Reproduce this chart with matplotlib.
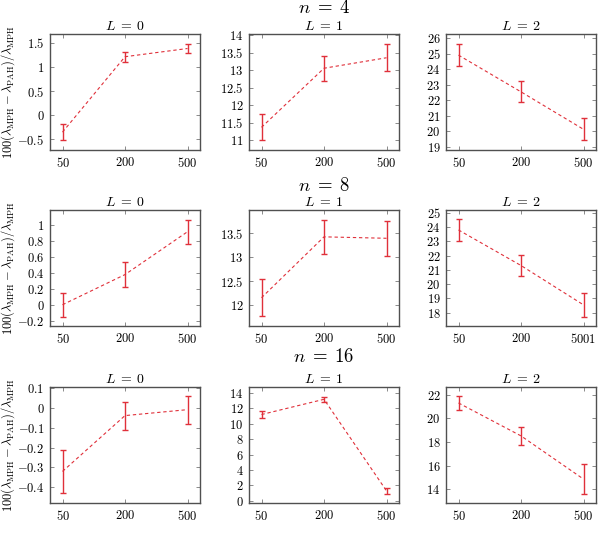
import matplotlib
matplotlib.use("Agg")
import matplotlib.pyplot as plt
import numpy as np

plt.rcParams['mathtext.fontset'] = 'cm'
plt.rcParams['font.family'] = ['DejaVu Serif']

x_labels = ["50", "200", "500"]
x_labels_alt = ["50", "200", "5001"]
L_titles = [r"$L\;=\;0$", r"$L\;=\;1$", r"$L\;=\;2$"]
n_titles = [r"$n\;=\;4$", r"$n\;=\;8$", r"$n\;=\;16$"]

# n = 4
n4_L0 = [-0.35, 1.21, 1.38]
n4_L0_err = [0.17, 0.10, 0.10]
n4_L1 = [11.37, 13.06, 13.36]
n4_L1_err = [0.37, 0.36, 0.38]
n4_L2 = [24.90, 22.54, 20.13]
n4_L2_err = [0.70, 0.67, 0.70]
# n = 8
n8_L0 = [0.00, 0.38, 0.92]
n8_L0_err = [0.15, 0.16, 0.15]
n8_L1 = [12.16, 13.43, 13.40]
n8_L1_err = [0.39, 0.36, 0.36]
n8_L2 = [23.79, 21.30, 18.54]
n8_L2_err = [0.74, 0.76, 0.82]
# n = 16
n16_L0 = [-0.32, -0.039, -0.009]
n16_L0_err = [0.11, 0.07, 0.07]
n16_L1 = [11.20, 13.18, 1.28]
n16_L1_err = [0.43, 0.30, 0.41]
n16_L2 = [21.30, 18.52, 14.87]
n16_L2_err = [0.56, 0.75, 1.24]

series = [
    [(n4_L0, n4_L0_err), (n4_L1, n4_L1_err), (n4_L2, n4_L2_err)],
    [(n8_L0, n8_L0_err), (n8_L1, n8_L1_err), (n8_L2, n8_L2_err)],
    [(n16_L0, n16_L0_err), (n16_L1, n16_L1_err), (n16_L2, n16_L2_err)],
]

yticks = [
    [[-0.5, 0, 0.5, 1, 1.5], [11, 11.5, 12, 12.5, 13, 13.5, 14], list(range(19, 27))],
    [[-0.2, 0, 0.2, 0.4, 0.6, 0.8, 1], [12, 12.5, 13, 13.5], list(range(18, 26))],
    [[-0.4, -0.3, -0.2, -0.1, 0, 0.1], list(range(0, 15, 2)), [14, 16, 18, 20, 22]],
]
ylims = [
    [(-0.72, 1.68), (10.72, 14.04), (18.8, 26.26)],
    [(-0.268, 1.194), (11.57, 13.99), (17.06, 25.19)],
    [(-0.479, 0.105), (-0.3, 14.78), (12.85, 22.65)],
]

W, H = 599, 533
fig = plt.figure(figsize=(W / 100, H / 100), dpi=100)

col_left = [50, 249, 446]
col_w = 150
row_top = [34, 210, 387]
row_h = 116
title_y = [8, 186, 357]

red = '#e0303a'
frame = '#505050'

def fmt(v):
    s = ('%g' % v)
    return '$' + s + '$'

for r in range(3):
    for c in range(3):
        ax = fig.add_axes([col_left[c] / W, 1 - (row_top[r] + row_h) / H, col_w / W, row_h / H])
        y, e = series[r][c]
        xs = np.arange(len(y))
        ax.errorbar(xs, y, yerr=e, color=red, ls=(0, (3, 2.5)), lw=0.8,
                    elinewidth=1.0, capsize=2.5, capthick=1.0)
        ax.set_xlim(-0.2, 2.2)
        ax.set_ylim(*ylims[r][c])
        ax.set_xticks(xs)
        labs = x_labels_alt if (r == 1 and c == 2) else x_labels
        ax.set_xticklabels(['$' + s + '$' for s in labs])
        ax.set_yticks(yticks[r][c])
        ax.set_yticklabels([fmt(v) for v in yticks[r][c]])
        ax.tick_params(direction='in', length=3, width=0.6, color='#777777',
                       top=True, right=True, labelsize=9, pad=4)
        for sp in ax.spines.values():
            sp.set_color(frame)
            sp.set_linewidth(1.0)
        ax.set_title(L_titles[c], fontsize=10, pad=3)
        if c == 0:
            ax.set_ylabel(r'$100(\lambda_{\rm MPH}-\lambda_{\rm PAH})/\lambda_{\rm MPH}$', fontsize=9)
            ax.yaxis.set_label_coords(-33 / col_w, 0.5)
    fig.text((col_left[1] + col_w / 2) / W, 1 - title_y[r] / H, n_titles[r],
             ha='center', va='center', fontsize=13.5)

fig.savefig('out.png', dpi=100)
